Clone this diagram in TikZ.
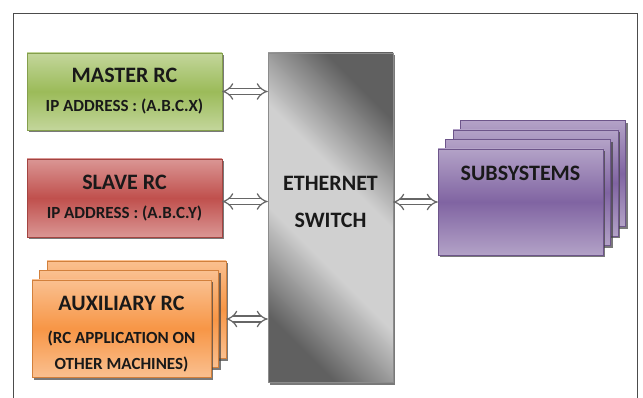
\documentclass[tikz,border=0pt]{standalone}
\usepackage{fontspec}
\setmainfont{Carlito}
\usepackage{xcolor}
\usetikzlibrary{arrows.meta,shadows}
\definecolor{masterlight}{HTML}{C3D69B}
\definecolor{masterdark}{HTML}{9BBB59}
\definecolor{slavelight}{HTML}{DA9694}
\definecolor{slavedark}{HTML}{C0504D}
\definecolor{auxlight}{HTML}{FAC090}
\definecolor{auxdark}{HTML}{F79646}
\definecolor{sublight}{HTML}{B3A2C7}
\definecolor{subdark}{HTML}{8064A2}
\definecolor{swlight}{HTML}{D0D0D0}
\definecolor{swdark}{HTML}{606060}
\pgfdeclareverticalshading{switchshade}{100bp}{color(0bp)=(swdark);
    color(25bp)=(swdark); color(42bp)=(swlight); color(58bp)=(swlight);
    color(75bp)=(swdark); color(100bp)=(swdark)}
\tikzset{basic/.style={draw,rectangle,inner sep=0pt,align=center,
                       font=\bfseries,text=black!90,
                       drop shadow={shadow xshift=2pt,shadow yshift=-2.5pt,
                                    fill=black!75,opacity=.7}}}
\tikzset{rcbox/.style={basic,minimum width=195pt,minimum height=77pt}}
\tikzset{masterfill/.style={draw=masterdark!85!black,top color=masterlight,
                            bottom color=masterlight,middle color=masterdark}}
\tikzset{slavefill/.style={draw=slavedark!85!black,top color=slavelight,
                           bottom color=slavelight,middle color=slavedark}}
\tikzset{auxbox/.style={basic,minimum width=179pt,minimum height=97pt,
                        draw=auxdark!85!black,top color=auxlight,
                        bottom color=auxlight,middle color=auxdark}}
\tikzset{subbox/.style={basic,minimum width=165pt,minimum height=106pt,
                        draw=subdark!85!black,top color=sublight,
                        bottom color=sublight,middle color=subdark}}
\tikzset{switchbox/.style={basic,minimum width=125pt,minimum height=329pt,
                           draw=black!45,shading=switchshade,shading angle=-45}}
\tikzset{link/.style={draw=black!60,line width=1.2pt,double=white,
                      double distance=4.6pt,{Implies}-{Implies}}}
\newcommand{\bigtxt}{\fontsize{22}{29}\selectfont}
\newcommand{\smalltxt}{\fontsize{17}{29}\selectfont}

\begin{document}
\begin{tikzpicture}[x=1pt,y=-1pt]
    \useasboundingbox (0,0) rectangle (643,398);
    % Outer frame, open at the bottom
    \draw[black!70,line width=1pt] (13.5,405) -- (13.5,13.5) -- (637,13.5) -- (637,405);
    % Master and slave RC
    \node[rcbox,masterfill,font=\bfseries\fontsize{22}{29}\selectfont] (master) at (124.5,91.5)
        {\bigtxt MASTER RC\\\smalltxt IP ADDRESS : (A.B.C.X)};
    \node[rcbox,slavefill,minimum height=78pt,font=\bfseries\fontsize{22}{29}\selectfont] (slave) at (124.5,198)
        {\bigtxt SLAVE RC\\\smalltxt IP ADDRESS : (A.B.C.Y)};
    % Auxiliary RC, sheets behind first
    \foreach \i in {3,2}{%
          \node[auxbox] (aux\i) at (114+7.5*\i,338-9.5*\i) {};
        }
    \node[auxbox,font=\bfseries\fontsize{17}{26}\selectfont,
          text height=89pt,text depth=8pt] (aux1) at (121.5,328.5)
        {\bigtxt AUXILIARY RC\\[6.5pt]\smalltxt (RC APPLICATION ON\\\smalltxt OTHER MACHINES)};
    % Ethernet switch
    \node[switchbox,font=\bfseries\fontsize{22}{37}\selectfont,
          text height=174.5pt,text depth=154.5pt] (switch) at (330.5,217.5)
        {ETHERNET\\SWITCH};
    % Subsystems, sheets behind first
    \foreach \i in {4,3,2}{%
          \node[subbox] (sub\i) at (513+7.5*\i,211.5-9.5*\i) {};
        }
    \node[subbox,font=\bfseries\fontsize{22}{29}\selectfont,
          text height=32pt,text depth=74pt] (sub1) at (520.5,202) {SUBSYSTEMS};
    % Links to the switch
    \draw[link] (master.east) -- (master.east -| switch.west);
    \draw[link] ([yshift=-3.5pt]slave.east) -- ([yshift=-3.5pt]slave.east -| switch.west);
    \draw[link] (aux2.east -| aux3.east) -- (aux2.east -| switch.west);
    \draw[link] (sub1.west -| switch.east) -- (sub1.west);
\end{tikzpicture}
\end{document}
